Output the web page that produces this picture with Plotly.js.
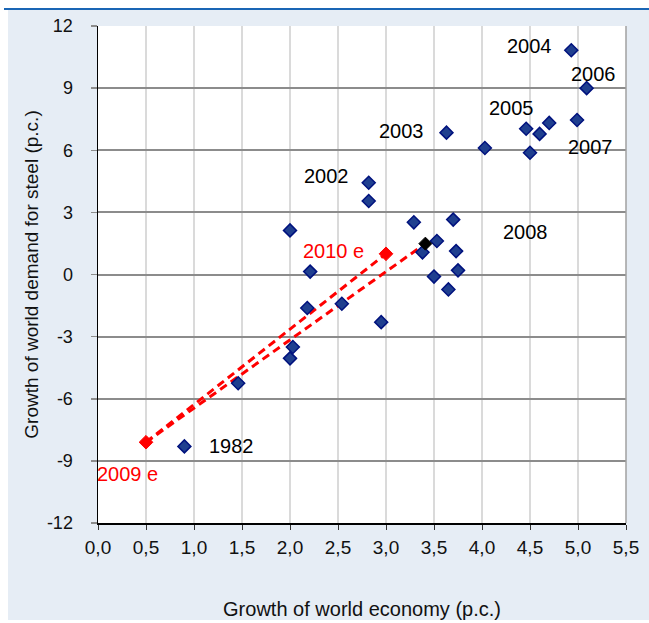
<!DOCTYPE html>
<html>
<head>
<meta charset="utf-8">
<script src="https://cdn.plot.ly/plotly-3.0.1.min.js"></script>
<style>
  html, body { margin: 0; padding: 0; background: #ffffff; width: 649px; height: 623px; overflow: hidden; }
  #topline { position: absolute; left: 4px; top: 8px; width: 645px; height: 2px; background: #1a66b5; }
  #chart { position: absolute; left: 8px; top: 10px; width: 641px; height: 610px; }
</style>
</head>
<body>
<div id="topline"></div>
<div id="chart"></div>
<script>
// Historical observations (growth of world economy vs growth of world steel demand, p.c.)
const histEconomy = [0.90, 1.46, 2.00, 2.03, 2.00, 2.18, 2.21, 2.54, 2.95, 2.82, 2.82, 3.29, 3.38, 3.50,
                     3.53, 3.65, 3.70, 3.73, 3.75, 3.63, 4.03, 4.46, 4.50, 4.60, 4.70, 4.93, 4.99, 5.09];
const histSteel   = [-8.30, -5.25, -4.05, -3.50, 2.13, -1.62, 0.14, -1.41, -2.30, 4.43, 3.55, 2.52, 1.07, -0.10,
                     1.62, -0.72, 2.65, 1.13, 0.20, 6.85, 6.11, 7.04, 5.88, 6.79, 7.32, 10.83, 7.46, 9.00];

// 2008 (black point)
const y2008Economy = [3.41];
const y2008Steel   = [1.49];

// Estimates 2009e, 2010e (red points)
const estEconomy = [0.50, 3.00];
const estSteel   = [-8.10, 1.00];

// Dashed red connectors: 2009e -> 2010e, 2009e -> 2008
const lineAEconomy = [0.50, 3.00];
const lineASteel   = [-8.10, 1.00];
const lineBEconomy = [0.50, 3.41];
const lineBSteel   = [-8.10, 1.49];

// Year labels
const labelText  = ['2004', '2006', '2005', '2003', '2007', '2008', '2002', '1982', '2010 e', '2009 e'];
const labelEcon  = [4.49, 5.16, 4.31, 3.16, 5.13, 4.45, 2.38, 1.39, 2.45, 0.31];
const labelSteel = [11.03, 9.68, 8.04, 6.93, 6.15, 2.05, 4.75, -8.29, 1.13, -9.64];
const labelIsEstimate = [false, false, false, false, false, false, false, false, true, true];

const xTickVals = [0, 0.5, 1, 1.5, 2, 2.5, 3, 3.5, 4, 4.5, 5, 5.5];
const yTickVals = [-12, -9, -6, -3, 0, 3, 6, 9, 12];
const yTickText = ['-12', '-9', '-6', '-3', '0', '3', '6', '9', '12'];

const font = 'Liberation Sans, Arial, sans-serif';

const traces = [
  {
    x: lineAEconomy, y: lineASteel, type: 'scatter', mode: 'lines',
    line: { color: '#ff0000', width: 3, dash: '8px,5px' }, hoverinfo: 'skip', showlegend: false
  },
  {
    x: lineBEconomy, y: lineBSteel, type: 'scatter', mode: 'lines',
    line: { color: '#ff0000', width: 3, dash: '8px,5px' }, hoverinfo: 'skip', showlegend: false
  },
  {
    x: histEconomy, y: histSteel, type: 'scatter', mode: 'markers',
    marker: { symbol: 'diamond', size: 10, color: '#1f3f8f', line: { color: '#00127e', width: 1.5 } },
    showlegend: false
  },
  {
    x: y2008Economy, y: y2008Steel, type: 'scatter', mode: 'markers',
    marker: { symbol: 'diamond', size: 10, color: '#000000', line: { color: '#000000', width: 1 } },
    showlegend: false
  },
  {
    x: estEconomy, y: estSteel, type: 'scatter', mode: 'markers',
    marker: { symbol: 'diamond', size: 10.5, color: '#ff0000', line: { color: '#ff0000', width: 1 } },
    showlegend: false
  }
];

const annotations = labelText.map((t, i) => ({
  x: labelEcon[i], y: labelSteel[i], xref: 'x', yref: 'y',
  text: t, showarrow: false, xanchor: 'center', yanchor: 'middle',
  font: { family: font, size: 20, color: labelIsEstimate[i] ? '#ff0000' : '#000000' }
}));

const layout = {
  width: 641, height: 610,
  margin: { l: 90, r: 23, t: 16, b: 97, pad: 0 },
  paper_bgcolor: '#e6edf5',
  plot_bgcolor: '#ffffff',
  separators: ', ',
  showlegend: false,
  font: { family: font, color: '#111111' },
  xaxis: {
    range: [0, 5.5], tickvals: xTickVals, tickformat: '.1f',
    showgrid: true, gridcolor: '#dadada', gridwidth: 1.5,
    showline: true, linecolor: '#000000', linewidth: 1.5,
    ticks: 'outside', ticklen: 5, tickcolor: '#333333', tickwidth: 1,
    zeroline: false, tickfont: { family: font, size: 19, color: '#111111' },
    ticklabelstandoff: 2,
    title: { text: 'Growth of world economy (p.c.)', font: { family: font, size: 20, color: '#111111' }, standoff: 46 }
  },
  yaxis: {
    range: [-12, 12], tickvals: yTickVals, ticktext: yTickText,
    showgrid: true, gridcolor: '#8c8c8c', gridwidth: 2,
    showline: true, linecolor: '#000000', linewidth: 1.5,
    ticks: 'outside', ticklen: 6, tickcolor: '#8c8c8c', tickwidth: 1.5,
    zeroline: false, tickfont: { family: font, size: 18, color: '#111111' },
    ticklabelstandoff: 14,
    title: { text: 'Growth of world demand for steel (p.c.)', font: { family: font, size: 19, color: '#111111' }, standoff: 3 }
  },
  shapes: [
    { type: 'line', xref: 'paper', yref: 'paper', x0: 1, x1: 1, y0: 0, y1: 1,
      line: { color: '#a0a0a0', width: 1.5 } }
  ],
  annotations: annotations
};

Plotly.newPlot('chart', traces, layout, { displayModeBar: false, staticPlot: true });
</script>
</body>
</html>
